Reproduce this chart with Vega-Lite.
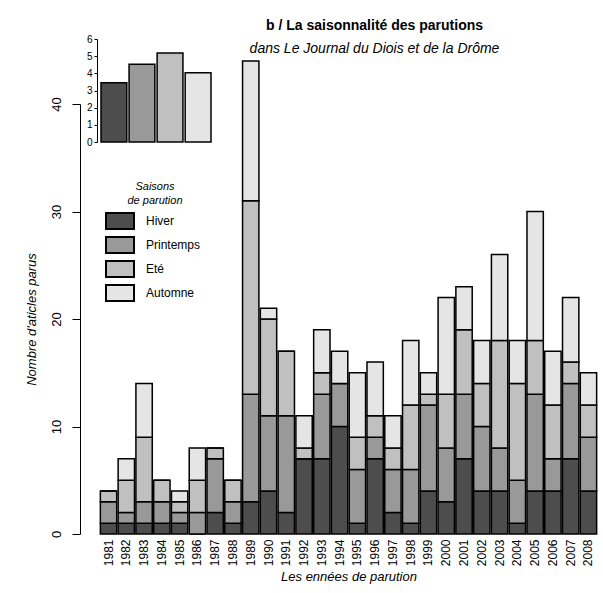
{
  "$schema": "https://vega.github.io/schema/vega-lite/v6.json",
  "autosize": "none",
  "width": 497,
  "height": 474,
  "padding": {"left": 100, "top": 60, "right": 6, "bottom": 59},
  "background": "white",
  "config": {
    "view": {"stroke": null},
    "font": "Liberation Sans",
    "axis": {"labelColor": "black", "titleColor": "black", "domainColor": "black", "tickColor": "black", "grid": false, "labelFont": "Liberation Sans", "titleFont": "Liberation Sans"}
  },
  "title": {
    "text": "b / La saisonnalité des parutions",
    "subtitle": "dans Le Journal du Diois et de la Drôme",
    "anchor": "middle",
    "dx": 26,
    "font": "Liberation Sans",
    "fontSize": 14,
    "fontWeight": "bold",
    "color": "black",
    "subtitleFont": "Liberation Sans",
    "subtitleFontSize": 14,
    "subtitleFontStyle": "italic",
    "subtitleColor": "black",
    "subtitlePadding": 9,
    "offset": -22
  },
  "datasets": {
    "annees": [
      {"annee": "1981", "Hiver": 1, "Printemps": 2, "Eté": 1, "Automne": 0},
      {"annee": "1982", "Hiver": 1, "Printemps": 1, "Eté": 3, "Automne": 2},
      {"annee": "1983", "Hiver": 1, "Printemps": 2, "Eté": 6, "Automne": 5},
      {"annee": "1984", "Hiver": 1, "Printemps": 2, "Eté": 2, "Automne": 0},
      {"annee": "1985", "Hiver": 1, "Printemps": 1, "Eté": 1, "Automne": 1},
      {"annee": "1986", "Hiver": 0, "Printemps": 2, "Eté": 3, "Automne": 3},
      {"annee": "1987", "Hiver": 2, "Printemps": 5, "Eté": 1, "Automne": 0},
      {"annee": "1988", "Hiver": 1, "Printemps": 2, "Eté": 2, "Automne": 0},
      {"annee": "1989", "Hiver": 3, "Printemps": 10, "Eté": 18, "Automne": 13},
      {"annee": "1990", "Hiver": 4, "Printemps": 7, "Eté": 9, "Automne": 1},
      {"annee": "1991", "Hiver": 2, "Printemps": 9, "Eté": 6, "Automne": 0},
      {"annee": "1992", "Hiver": 7, "Printemps": 0, "Eté": 1, "Automne": 3},
      {"annee": "1993", "Hiver": 7, "Printemps": 6, "Eté": 2, "Automne": 4},
      {"annee": "1994", "Hiver": 10, "Printemps": 4, "Eté": 0, "Automne": 3},
      {"annee": "1995", "Hiver": 1, "Printemps": 5, "Eté": 3, "Automne": 6},
      {"annee": "1996", "Hiver": 7, "Printemps": 2, "Eté": 2, "Automne": 5},
      {"annee": "1997", "Hiver": 2, "Printemps": 4, "Eté": 2, "Automne": 3},
      {"annee": "1998", "Hiver": 1, "Printemps": 5, "Eté": 6, "Automne": 6},
      {"annee": "1999", "Hiver": 4, "Printemps": 8, "Eté": 1, "Automne": 2},
      {"annee": "2000", "Hiver": 3, "Printemps": 5, "Eté": 5, "Automne": 9},
      {"annee": "2001", "Hiver": 7, "Printemps": 6, "Eté": 6, "Automne": 4},
      {"annee": "2002", "Hiver": 4, "Printemps": 6, "Eté": 4, "Automne": 4},
      {"annee": "2003", "Hiver": 4, "Printemps": 4, "Eté": 10, "Automne": 8},
      {"annee": "2004", "Hiver": 1, "Printemps": 4, "Eté": 9, "Automne": 4},
      {"annee": "2005", "Hiver": 4, "Printemps": 9, "Eté": 5, "Automne": 12},
      {"annee": "2006", "Hiver": 4, "Printemps": 3, "Eté": 5, "Automne": 5},
      {"annee": "2007", "Hiver": 7, "Printemps": 7, "Eté": 2, "Automne": 6},
      {"annee": "2008", "Hiver": 4, "Printemps": 5, "Eté": 3, "Automne": 3}
    ],
    "moyennes": [
      {"saison": "Hiver", "moyenne": 3.45},
      {"saison": "Printemps", "moyenne": 4.53},
      {"saison": "Eté", "moyenne": 5.19},
      {"saison": "Automne", "moyenne": 4.03}
    ]
  },
  "layer": [
    {
      "data": {"name": "annees"},
      "transform": [
        {"fold": ["Hiver", "Printemps", "Eté", "Automne"], "as": ["saison", "n"]},
        {"window": [{"op": "row_number", "as": "rang"}], "groupby": ["annee"]}
      ],
      "mark": {"type": "bar", "stroke": "black", "strokeWidth": 1.5, "opacity": 1},
      "encoding": {
        "x": {
          "field": "annee",
          "type": "ordinal",
          "scale": {"paddingInner": 0.08, "paddingOuter": 0.02},
          "axis": {
            "orient": "bottom",
            "domain": false,
            "ticks": false,
            "labelAngle": 270,
            "labelAlign": "right",
            "labelBaseline": "middle",
            "labelFontSize": 12,
            "labelPadding": 5,
            "title": "Les ennées de parution",
            "titleFontSize": 13,
            "titleFontStyle": "italic",
            "titleFontWeight": "normal",
            "titlePadding": 5
          }
        },
        "y": {
          "field": "n",
          "type": "quantitative",
          "stack": "zero",
          "scale": {"domain": [0, 40], "range": [474, 44], "nice": false},
          "axis": {
            "orient": "left",
            "values": [0, 10, 20, 30, 40],
            "offset": 20,
            "tickSize": 8,
            "labelAngle": 270,
            "labelAlign": "center",
            "labelBaseline": "bottom",
            "labelFontSize": 13,
            "labelPadding": 9,
            "title": "Nombre d'aticles parus",
            "titleFontSize": 13,
            "titleFontStyle": "italic",
            "titleFontWeight": "normal",
            "titlePadding": 12
          }
        },
        "order": {"field": "rang", "type": "quantitative", "sort": "ascending"},
        "color": {
          "field": "saison",
          "type": "nominal",
          "sort": ["Hiver", "Printemps", "Eté", "Automne"],
          "scale": {"domain": ["Hiver", "Printemps", "Eté", "Automne"], "range": ["#4d4d4d", "#999999", "#c0c0c0", "#e5e5e5"]},
          "legend": {
            "orient": "none",
            "legendX": 9,
            "legendY": 121,
            "title": ["Saisons", "de parution"],
            "titleFontSize": 11,
            "titleLineHeight": 14,
            "titleFontStyle": "italic",
            "titleFontWeight": "normal",
            "titleColor": "black",
            "titleAlign": "center",
            "titleAnchor": "middle",
            "titlePadding": 4,
            "labelFontSize": 12,
            "labelColor": "black",
            "labelOffset": 15,
            "symbolType": "M-1.4,-0.8H1.4V0.8H-1.4Z",
            "symbolSize": 400,
            "symbolStrokeColor": "black",
            "symbolStrokeWidth": 2,
            "symbolOpacity": 1,
            "rowPadding": 0
          }
        }
      }
    },
    {
      "data": {"name": "moyennes"},
      "mark": {"type": "bar", "stroke": "black", "strokeWidth": 1.5, "opacity": 1},
      "encoding": {
        "x": {
          "field": "saison",
          "type": "nominal",
          "sort": ["Hiver", "Printemps", "Eté", "Automne"],
          "scale": {"domain": ["Hiver", "Printemps", "Eté", "Automne"], "range": [1, 111], "paddingInner": 0.08, "paddingOuter": 0},
          "axis": null
        },
        "y": {
          "field": "moyenne",
          "type": "quantitative",
          "scale": {"domain": [0, 6], "range": [82, -21], "nice": false},
          "axis": {
            "orient": "left",
            "values": [0, 1, 2, 3, 4, 5, 6],
            "offset": 3,
            "tickSize": 3,
            "labelFontSize": 10,
            "labelPadding": 2,
            "title": null
          }
        },
        "color": {"field": "saison", "type": "nominal"}
      }
    }
  ],
  "resolve": {"scale": {"x": "independent", "y": "independent"}, "axis": {"x": "independent", "y": "independent"}}
}
